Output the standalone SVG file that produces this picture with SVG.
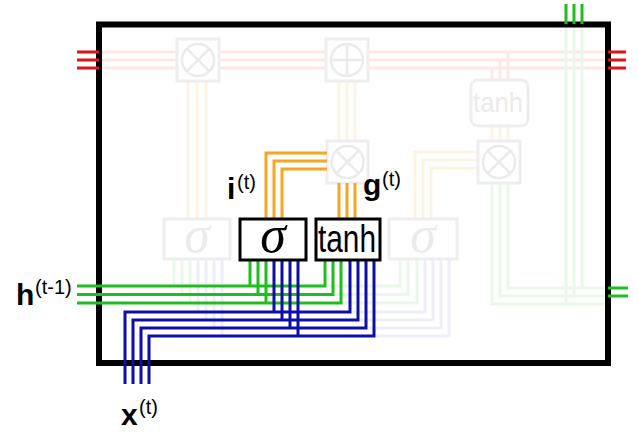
<svg xmlns="http://www.w3.org/2000/svg" width="638" height="432" viewBox="0 0 638 432">
<style>
.w{fill:none;stroke-width:3}
.r{stroke:#e01414}.g{stroke:#1fbe1f}.o{stroke:#f5a623}.b{stroke:#0f0fa8}
.fr{stroke:#fde8e8}.fg{stroke:#eaf7ea}.fo{stroke:#fdf3e3}.fb{stroke:#eeeef9}
.fbox{fill:#fff;stroke:#eeeeee;stroke-width:3}
.box{fill:#fff;stroke:#000;stroke-width:3}
.fsym{fill:none;stroke:#ebebeb;stroke-width:2.5}
.lbl{font-family:"Liberation Sans",Arial,sans-serif;font-weight:bold;font-size:30px;fill:#000}
.sup{font-family:"Liberation Sans",Arial,sans-serif;font-size:20px;fill:#000}
.sig{font-family:"Liberation Serif","DejaVu Serif",serif;font-style:italic;font-size:52px}
.tanh{font-family:"Liberation Sans",Arial,sans-serif;font-size:38px}
</style>
<g id="faint-connectors" class="w">
<path class="fr" d="M102 52H605M102 60H605M102 68H605"/>
<path class="fr" d="M508 52V80M500 60V80M492 68V80"/>
<path class="fo" d="M188 81V219M197 81V219M206 81V219"/>
<path class="fo" d="M339 81V141M347 81V141M355 81V141"/>
<path class="fo" d="M492 126V141M500 126V141M508 126V141"/>
<path class="fo" d="M415 219V152H479M423 219V160H479M431 219V168H479"/>
<path class="fg" d="M508 183V288H605M500 183V296H605M492 183V304H605"/>
<path class="fg" d="M566 27V304M574 27V296M582 27V288"/>
<path class="fg" d="M325 286H400V259M333 294.5H408V259M341 303H417V259"/>
<path class="fb" d="M350 312H425V259M358 320H433V259M366 328H441V259M374 336H449V259"/>
<path class="fg" d="M174 259V286M182 259V294.5M190 259V303"/>
<path class="fb" d="M198 259V312M206 259V320M214 259V328M222 259V336"/>
</g>
<g id="gate-forget-mult"><rect class="fbox" x="177" y="39" width="42" height="42"/><circle class="fsym" cx="198" cy="60" r="16"/><path class="fsym" d="M186.7 48.7L209.3 71.3M209.3 48.7L186.7 71.3"/></g>
<g id="gate-plus"><rect class="fbox" x="326" y="39" width="42" height="42"/><circle class="fsym" cx="347" cy="60" r="16"/><path class="fsym" d="M347 44V76M331 60H363"/></g>
<g id="gate-input-mult"><rect class="fbox" x="327" y="141" width="41" height="42"/><circle class="fsym" cx="347.5" cy="162" r="16"/><path class="fsym" d="M336.2 150.7L358.8 173.3M358.8 150.7L336.2 173.3"/></g>
<g id="gate-output-mult"><rect class="fbox" x="478" y="141" width="42" height="42"/><circle class="fsym" cx="499" cy="162" r="16"/><path class="fsym" d="M487.7 150.7L510.3 173.3M510.3 150.7L487.7 173.3"/></g>
<g id="gate-cell-tanh"><rect class="fbox" x="471" y="80" width="57" height="46" rx="7"/><text class="tanh" x="473" y="112" textLength="50" lengthAdjust="spacingAndGlyphs" fill="#ebebeb" style="font-size:28px">tanh</text></g>
<g id="gate-forget-sigma"><rect class="fbox" x="164" y="219" width="66" height="40"/><text class="sig" x="197" y="252" text-anchor="middle" fill="#ebebeb">σ</text></g>
<g id="gate-output-sigma"><rect class="fbox" x="389" y="219" width="68" height="40"/><text class="sig" x="423" y="252" text-anchor="middle" fill="#ebebeb">σ</text></g>
<g id="cell"><rect x="99" y="24.5" width="509" height="338.5" fill="none" stroke="#000" stroke-width="6"/></g>
<g id="connectors" class="w">
<path class="r" d="M77 52H99M77 60H99M77 68H99"/>
<path class="r" d="M608 52H626M608 60H626M608 68H626"/>
<path class="g" d="M566 4V24M574 4V24M582 4V24"/>
<path class="g" d="M608 288H628M608 296H628"/>
<path class="g" d="M77 286H325V260M250 286V260"/>
<path class="g" d="M77 294.5H333V260M258 294.5V260"/>
<path class="g" d="M77 303H341V260M266 303V260"/>
<path class="b" d="M125 384V312H350V260M274 312V260"/>
<path class="b" d="M133 384V320H358V260M282 320V260"/>
<path class="b" d="M141 384V328H366V260M290 328V260"/>
<path class="b" d="M149 384V336H374V260M298 336V260"/>
<path class="o" d="M266 219V153H327M274 219V161H327M282 219V169H327"/>
<path class="o" d="M339 219V183M347 219V183M355 219V183"/>
</g>
<g id="gate-input-sigma"><rect class="box" x="240" y="219" width="66" height="41"/><text class="sig" x="273" y="252" text-anchor="middle">σ</text></g>
<g id="gate-input-tanh"><rect class="box" x="316" y="219" width="64" height="41"/><text class="tanh" x="318" y="252" textLength="58" lengthAdjust="spacingAndGlyphs">tanh</text></g>
<g id="labels">
<text class="lbl" x="16" y="305">h</text><text class="sup" x="35" y="294">(t-1)</text>
<text class="lbl" x="227" y="199">i</text><text class="sup" x="237" y="189">(t)</text>
<text class="lbl" x="363" y="195">g</text><text class="sup" x="382" y="186">(t)</text>
<text class="lbl" x="121" y="425">x</text><text class="sup" x="139" y="414">(t)</text>
</g>
</svg>
